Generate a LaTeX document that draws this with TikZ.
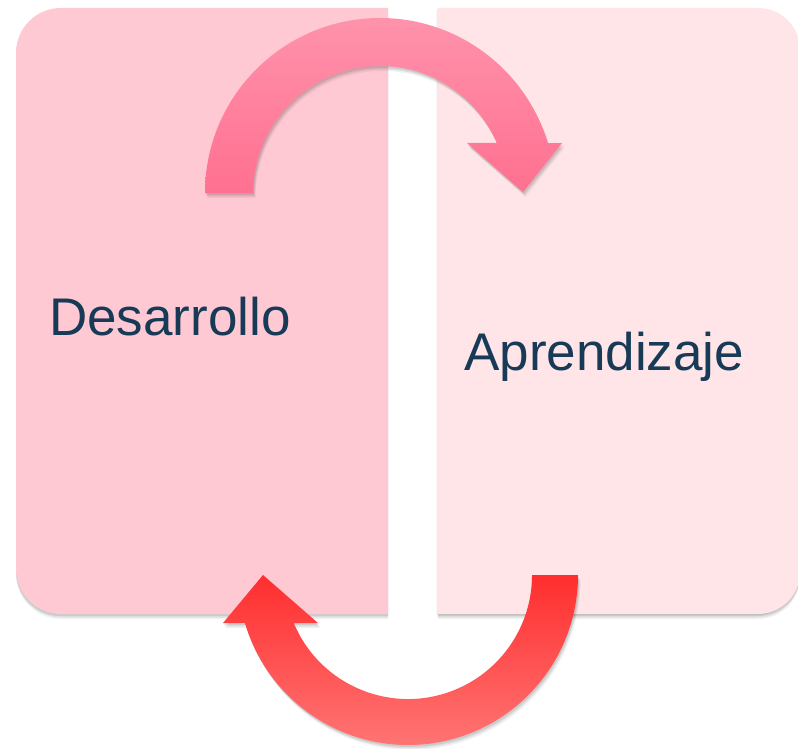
\documentclass[tikz,border=0pt]{standalone}
\usepackage{fontspec}
\setmainfont{Liberation Sans}
\definecolor{leftpanel}{HTML}{FFC9D3}
\definecolor{rightpanel}{HTML}{FFE5E7}
\definecolor{txtnavy}{HTML}{173A56}
\definecolor{topA}{HTML}{FF92AB}
\definecolor{topB}{HTML}{FF7090}
\definecolor{botA}{HTML}{FF2E2E}
\definecolor{botB}{HTML}{FF7474}
\newcommand\leftpanelpath{(388,8) -- (61,8) arc[start angle=270,end angle=180,radius=45] -- (16,569) arc[start angle=180,end angle=90,radius=45] -- (388,614) -- cycle}
\newcommand\rightpanelpath{(438,8) -- (758,8) arc[start angle=270,end angle=360,radius=42] -- (800,572) arc[start angle=0,end angle=90,radius=42] -- (438,614) -- cycle}
\newcommand\toparrowpath{(205,193) arc[start angle=180,end angle=343.4,radius=175] -- (562,143) -- (523,192) -- (467,143) -- (496.8,143) arc[start angle=336.8,end angle=180,radius=127] -- cycle}
\newcommand\botarrowpath{(578,575) arc[start angle=0,end angle=163.6,radius=170] -- (223,623) -- (263,575) -- (318,623) -- (293.7,623) arc[start angle=157.23,end angle=0,radius=124] -- cycle}
\tikzset{
  softshadow/.style={fill=black,opacity=#1},
  label/.style={text=txtnavy,font=\fontsize{53}{60}\selectfont,inner sep=0pt}
}
\begin{document}
\begin{tikzpicture}[x=1pt,y=-1pt]
\useasboundingbox (0,0) rectangle (798,749);
\fill[white] (0,0) rectangle (798,749);
% panel shadows
\foreach \d/\o in {5/0.05,3.5/0.07,2/0.09}{
  \fill[softshadow=\o] [shift={(0,\d)}] \leftpanelpath;
  \fill[softshadow=\o] [shift={(0,\d)}] \rightpanelpath;
}
\fill[softshadow=0.08] [shift={(-1.5,1)}] \rightpanelpath;
% panels
\fill[leftpanel] \leftpanelpath;
\fill[rightpanel] \rightpanelpath;
% texts
\node[label,anchor=base west] (des) at (49,335) {Desarrollo};
\node[label,anchor=base west] (apr) at (464,370) {Aprendizaje};
% arrow shadows
\foreach \d/\o in {5/0.05,3.5/0.07,2/0.09}{
  \fill[softshadow=\o] [shift={(0.5*\d,\d)}] \toparrowpath;
  \fill[softshadow=\o] [shift={(0.5*\d,\d)}] \botarrowpath;
}
% arrows
\shade[top color=topA,bottom color=topB] \toparrowpath;
\shade[top color=botA,bottom color=botB] \botarrowpath;
\end{tikzpicture}
\end{document}
